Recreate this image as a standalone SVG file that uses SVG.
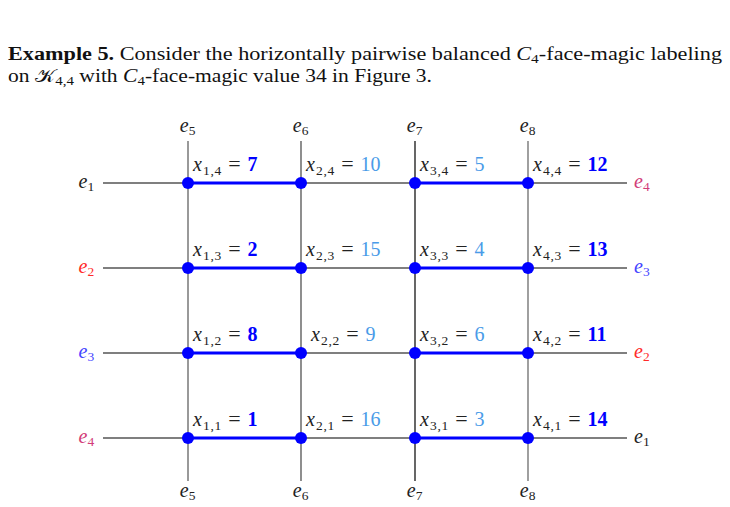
<svg xmlns="http://www.w3.org/2000/svg" width="730" height="507" viewBox="0 0 730 507">
<style>
text{font-family:"Liberation Serif","DejaVu Serif",serif;fill:#222;}
.p{font-size:18px;fill:#111;}
.g{font-family:"Liberation Serif","DejaVu Serif",serif;font-size:20px;}
.mi{font-style:italic;}
.sub{font-size:13.5px;letter-spacing:0.8px;}
.eq{font-size:22px;}
.bv{font-weight:bold;fill:#0000ff;font-size:20px;}
.lv{fill:#4a9be8;font-size:20px;}
.hl{stroke:#000;stroke-width:1.2;fill:none;}
.bar{stroke:#0000ff;stroke-width:3;}
.dot{fill:#0000ff;}
</style>
<g id="paragraph">
<text class="p" x="8" y="60" textLength="714" lengthAdjust="spacingAndGlyphs"><tspan font-weight="bold">Example 5.</tspan> Consider the horizontally pairwise balanced <tspan class="mi">C</tspan><tspan font-size="12.5px" dy="3">4</tspan><tspan dy="-3">-face-magic labeling</tspan></text>
<text class="p" x="8" y="82" textLength="424" lengthAdjust="spacingAndGlyphs">on 𝒦<tspan font-size="12.5px" dy="3">4,4</tspan><tspan dy="-3"> with </tspan><tspan class="mi">C</tspan><tspan font-size="12.5px" dy="3">4</tspan><tspan dy="-3">-face-magic value 34 in Figure 3.</tspan></text>
</g>
<g id="connectors">
<line class="hl" x1="103" y1="183" x2="627" y2="183"/>
<line class="hl" x1="103" y1="268" x2="627" y2="268"/>
<line class="hl" x1="103" y1="353" x2="627" y2="353"/>
<line class="hl" x1="103" y1="438" x2="627" y2="438"/>
<line x1="188" y1="141" x2="188" y2="481" stroke="#555" stroke-width="1.2"/>
<line x1="301" y1="141" x2="301" y2="481" stroke="#444" stroke-width="1.2"/>
<line x1="415" y1="141" x2="415" y2="481" stroke="#000" stroke-width="1.2"/>
<line x1="528" y1="141" x2="528" y2="481" stroke="#888" stroke-width="1.6"/>
<line class="bar" x1="188" y1="183" x2="301" y2="183"/>
<line class="bar" x1="415" y1="183" x2="528" y2="183"/>
<line class="bar" x1="188" y1="268" x2="301" y2="268"/>
<line class="bar" x1="415" y1="268" x2="528" y2="268"/>
<line class="bar" x1="188" y1="353" x2="301" y2="353"/>
<line class="bar" x1="415" y1="353" x2="528" y2="353"/>
<line class="bar" x1="188" y1="438" x2="301" y2="438"/>
<line class="bar" x1="415" y1="438" x2="528" y2="438"/>
</g>
<g id="edge-labels">
<text class="g" x="95" y="188" text-anchor="end"><tspan class="mi">e</tspan><tspan class="sub" dy="3">1</tspan></text>
<text class="g" x="95" y="273" text-anchor="end" style="fill:#ff2a2a"><tspan class="mi">e</tspan><tspan class="sub" dy="3">2</tspan></text>
<text class="g" x="95" y="358" text-anchor="end" style="fill:#4444ff"><tspan class="mi">e</tspan><tspan class="sub" dy="3">3</tspan></text>
<text class="g" x="95" y="443" text-anchor="end" style="fill:#d23c78"><tspan class="mi">e</tspan><tspan class="sub" dy="3">4</tspan></text>
<text class="g" x="634" y="188" style="fill:#d23c78"><tspan class="mi">e</tspan><tspan class="sub" dy="3">4</tspan></text>
<text class="g" x="634" y="273" style="fill:#4444ff"><tspan class="mi">e</tspan><tspan class="sub" dy="3">3</tspan></text>
<text class="g" x="634" y="358" style="fill:#ff2a2a"><tspan class="mi">e</tspan><tspan class="sub" dy="3">2</tspan></text>
<text class="g" x="634" y="443"><tspan class="mi">e</tspan><tspan class="sub" dy="3">1</tspan></text>
<text class="g" x="188" y="132" text-anchor="middle"><tspan class="mi">e</tspan><tspan class="sub" dy="3">5</tspan></text>
<text class="g" x="301" y="132" text-anchor="middle"><tspan class="mi">e</tspan><tspan class="sub" dy="3">6</tspan></text>
<text class="g" x="415" y="132" text-anchor="middle"><tspan class="mi">e</tspan><tspan class="sub" dy="3">7</tspan></text>
<text class="g" x="528" y="132" text-anchor="middle"><tspan class="mi">e</tspan><tspan class="sub" dy="3">8</tspan></text>
<text class="g" x="188" y="497" text-anchor="middle"><tspan class="mi">e</tspan><tspan class="sub" dy="3">5</tspan></text>
<text class="g" x="301" y="497" text-anchor="middle"><tspan class="mi">e</tspan><tspan class="sub" dy="3">6</tspan></text>
<text class="g" x="415" y="497" text-anchor="middle"><tspan class="mi">e</tspan><tspan class="sub" dy="3">7</tspan></text>
<text class="g" x="528" y="497" text-anchor="middle"><tspan class="mi">e</tspan><tspan class="sub" dy="3">8</tspan></text>
</g>
<g id="n14"><circle class="dot" cx="188" cy="183" r="6"/><text class="g" x="193" y="171"><tspan class="mi">x</tspan><tspan class="sub" dx="1" dy="4">1,4</tspan><tspan class="eq" dx="6" dy="-4">=</tspan><tspan class="bv" dx="7">7</tspan></text></g>
<g id="n24"><circle class="dot" cx="301" cy="183" r="6"/><text class="g" x="306" y="171"><tspan class="mi">x</tspan><tspan class="sub" dx="1" dy="4">2,4</tspan><tspan class="eq" dx="6" dy="-4">=</tspan><tspan class="lv" dx="7">10</tspan></text></g>
<g id="n34"><circle class="dot" cx="415" cy="183" r="6"/><text class="g" x="420" y="171"><tspan class="mi">x</tspan><tspan class="sub" dx="1" dy="4">3,4</tspan><tspan class="eq" dx="6" dy="-4">=</tspan><tspan class="lv" dx="7">5</tspan></text></g>
<g id="n44"><circle class="dot" cx="528" cy="183" r="6"/><text class="g" x="533" y="171"><tspan class="mi">x</tspan><tspan class="sub" dx="1" dy="4">4,4</tspan><tspan class="eq" dx="6" dy="-4">=</tspan><tspan class="bv" dx="7">12</tspan></text></g>
<g id="n13"><circle class="dot" cx="188" cy="268" r="6"/><text class="g" x="193" y="256"><tspan class="mi">x</tspan><tspan class="sub" dx="1" dy="4">1,3</tspan><tspan class="eq" dx="6" dy="-4">=</tspan><tspan class="bv" dx="7">2</tspan></text></g>
<g id="n23"><circle class="dot" cx="301" cy="268" r="6"/><text class="g" x="306" y="256"><tspan class="mi">x</tspan><tspan class="sub" dx="1" dy="4">2,3</tspan><tspan class="eq" dx="6" dy="-4">=</tspan><tspan class="lv" dx="7">15</tspan></text></g>
<g id="n33"><circle class="dot" cx="415" cy="268" r="6"/><text class="g" x="420" y="256"><tspan class="mi">x</tspan><tspan class="sub" dx="1" dy="4">3,3</tspan><tspan class="eq" dx="6" dy="-4">=</tspan><tspan class="lv" dx="7">4</tspan></text></g>
<g id="n43"><circle class="dot" cx="528" cy="268" r="6"/><text class="g" x="533" y="256"><tspan class="mi">x</tspan><tspan class="sub" dx="1" dy="4">4,3</tspan><tspan class="eq" dx="6" dy="-4">=</tspan><tspan class="bv" dx="7">13</tspan></text></g>
<g id="n12"><circle class="dot" cx="188" cy="353" r="6"/><text class="g" x="193" y="341"><tspan class="mi">x</tspan><tspan class="sub" dx="1" dy="4">1,2</tspan><tspan class="eq" dx="6" dy="-4">=</tspan><tspan class="bv" dx="7">8</tspan></text></g>
<g id="n22"><circle class="dot" cx="301" cy="353" r="6"/><text class="g" x="311" y="341"><tspan class="mi">x</tspan><tspan class="sub" dx="1" dy="4">2,2</tspan><tspan class="eq" dx="6" dy="-4">=</tspan><tspan class="lv" dx="7">9</tspan></text></g>
<g id="n32"><circle class="dot" cx="415" cy="353" r="6"/><text class="g" x="420" y="341"><tspan class="mi">x</tspan><tspan class="sub" dx="1" dy="4">3,2</tspan><tspan class="eq" dx="6" dy="-4">=</tspan><tspan class="lv" dx="7">6</tspan></text></g>
<g id="n42"><circle class="dot" cx="528" cy="353" r="6"/><text class="g" x="533" y="341"><tspan class="mi">x</tspan><tspan class="sub" dx="1" dy="4">4,2</tspan><tspan class="eq" dx="6" dy="-4">=</tspan><tspan class="bv" dx="7">11</tspan></text></g>
<g id="n11"><circle class="dot" cx="188" cy="438" r="6"/><text class="g" x="193" y="426"><tspan class="mi">x</tspan><tspan class="sub" dx="1" dy="4">1,1</tspan><tspan class="eq" dx="6" dy="-4">=</tspan><tspan class="bv" dx="7">1</tspan></text></g>
<g id="n21"><circle class="dot" cx="301" cy="438" r="6"/><text class="g" x="306" y="426"><tspan class="mi">x</tspan><tspan class="sub" dx="1" dy="4">2,1</tspan><tspan class="eq" dx="6" dy="-4">=</tspan><tspan class="lv" dx="7">16</tspan></text></g>
<g id="n31"><circle class="dot" cx="415" cy="438" r="6"/><text class="g" x="420" y="426"><tspan class="mi">x</tspan><tspan class="sub" dx="1" dy="4">3,1</tspan><tspan class="eq" dx="6" dy="-4">=</tspan><tspan class="lv" dx="7">3</tspan></text></g>
<g id="n41"><circle class="dot" cx="528" cy="438" r="6"/><text class="g" x="533" y="426"><tspan class="mi">x</tspan><tspan class="sub" dx="1" dy="4">4,1</tspan><tspan class="eq" dx="6" dy="-4">=</tspan><tspan class="bv" dx="7">14</tspan></text></g>
</svg>
